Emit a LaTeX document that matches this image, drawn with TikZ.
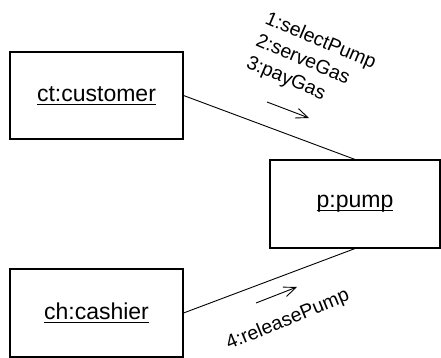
\documentclass[tikz,border=0pt]{standalone}
\usepackage{fontspec}
\setmainfont{Liberation Sans}
\usetikzlibrary{arrows.meta}

% underlined object name with a fixed rule just below the baseline
\newcommand\objname[1]{\setbox0\hbox{#1}\rlap{\rule[-3.6pt]{\wd0}{1.1pt}}\box0}

\tikzset{
  object/.style={draw, line width=1.1pt, minimum width=173pt, minimum height=87pt,
                 inner sep=0pt, font=\fontsize{23}{27}\selectfont},
  link/.style={line width=0.9pt},
  msgarrow/.style={line width=0.9pt, -{Straight Barb[length=12pt,width=10pt,line width=0.9pt]}},
  msglabel/.style={inner sep=0pt, anchor=base west, font=\fontsize{19.5}{24}\selectfont}
}

\begin{document}
\begin{tikzpicture}[x=1pt,y=1pt]
  \useasboundingbox (0,0) rectangle (441,358);

  % objects
  \node[object] (ct) at (96.5,262.5) {\objname{ct:customer}};
  \node[object, minimum width=170pt, minimum height=88pt] (p) at (355,154) {\objname{p:pump}};
  \node[object, minimum height=88pt] (ch) at (96.5,45) {\objname{ch:cashier}};

  % links
  \draw[link] (ct.east) -- (p.north);
  \draw[link] (ch.east) -- (p.south);

  % messages customer -> pump
  \coordinate (m1s) at (267,256);
  \coordinate (m1e) at (309,240);
  \draw[msgarrow] (m1s) -- (m1e);
  \node[msglabel, rotate=-23] (m1) at (264,335)
    {\begin{tabular}[t]{@{}l@{}}1:selectPump\\2:serveGas\\3:payGas\end{tabular}};

  % message cashier -> pump
  \coordinate (m2s) at (256,55);
  \coordinate (m2e) at (297,71);
  \draw[msgarrow] (m2s) -- (m2e);
  \node[msglabel, rotate=22.5] (m2) at (229,8) {4:releasePump};
\end{tikzpicture}
\end{document}
